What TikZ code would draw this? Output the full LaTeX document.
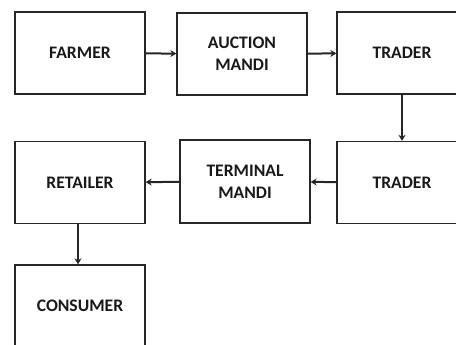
\documentclass[tikz,border=0pt]{standalone}
\usepackage{fontspec}
\setmainfont{Carlito}
\usetikzlibrary{arrows.meta}
\begin{document}
\begin{tikzpicture}[x=1pt,y=-1pt,
  box/.style={draw=black!85, line width=1.3pt, minimum width=130pt, minimum height=82pt, inner sep=0pt,
    align=center, font=\fontsize{17.6pt}{22pt}\selectfont\bfseries, text=black!90},
  conn/.style={draw=black!85, line width=2pt, -{Stealth[length=6pt,width=7pt]}}]
\useasboundingbox (0,0) rectangle (456,345);
\clip (0,0) rectangle (456,345);
\node[box] (farmer) at (80,53) {FARMER};
\node[box] (auction) at (242,54) {AUCTION\\MANDI};
\node[box] (trader1) at (402,53) {TRADER};
\node[box] (retailer) at (80,182.5) {RETAILER};
\node[box, minimum height=83pt] (terminal) at (245,181.5) {TERMINAL\\MANDI};
\node[box] (trader2) at (402,182.5) {TRADER};
\node[box] (consumer) at (80,306) {CONSUMER};
\draw[conn] (farmer) -- (auction);
\draw[conn] (auction) -- (trader1);
\draw[conn] (trader1) -- (trader2);
\draw[conn] (trader2) -- (terminal);
\draw[conn] (terminal) -- (retailer);
\draw[conn] (retailer.south -| 78,0) -- (consumer.north -| 78,0);
\end{tikzpicture}
\end{document}
